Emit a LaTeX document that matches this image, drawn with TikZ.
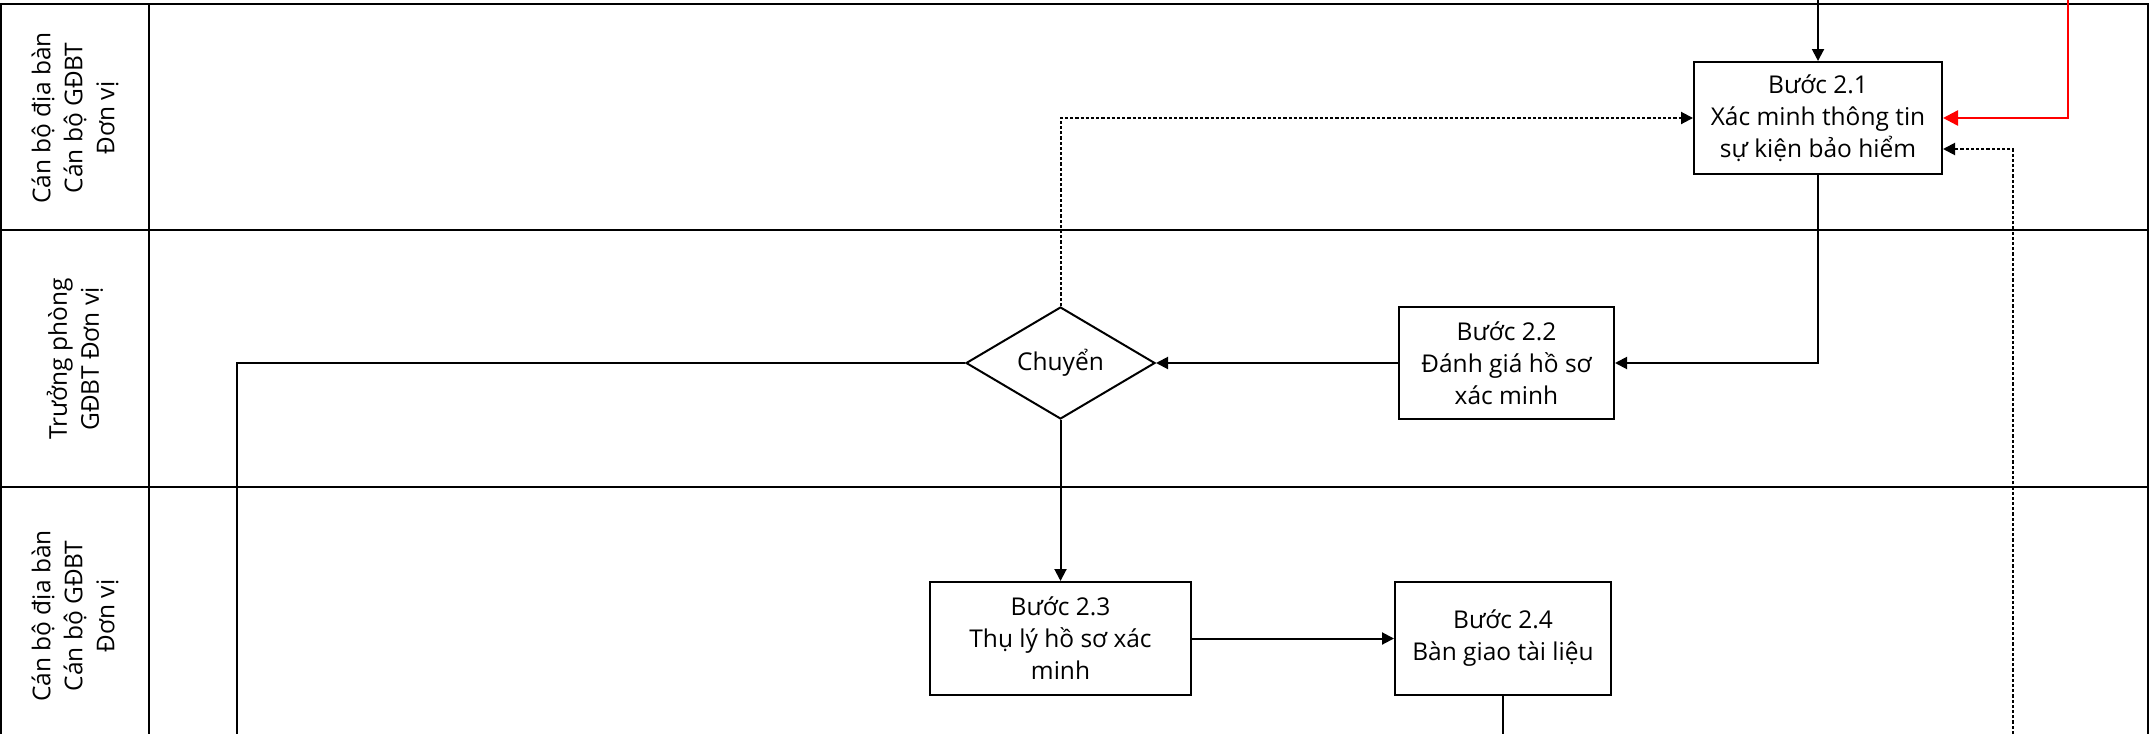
\documentclass[tikz,border=0pt]{standalone}
\usepackage{fontspec}
\setmainfont{Open Sans}
\usetikzlibrary{arrows.meta,shapes.geometric}
\begin{document}
\begin{tikzpicture}[x=1pt,y=-1pt,
  frame/.style={line width=2pt},
  txt/.style={font=\fontsize{24.5}{32}\selectfont},
  box/.style={draw,line width=2pt,rectangle,align=center,inner sep=0pt,txt},
  dec/.style={draw,line width=2pt,diamond,inner sep=0pt,aspect=1.69,txt},
  lanelabel/.style={rotate=90,align=center,txt},
  conn/.style={line width=2pt},
  arr/.style={conn,-{Triangle[length=12pt,width=12pt]}},
  dotarr/.style={arr,dash pattern=on 3.2pt off 2pt},
  redarr/.style={line width=2.6pt,draw=red,-{Triangle[length=15pt,width=15pt]}}
]
\useasboundingbox (0,0) rectangle (2149,734);
% lanes frame
\draw[frame] (0,4) -- (2149,4);
\draw[frame] (0,230) -- (2149,230);
\draw[frame] (0,487) -- (2149,487);
\draw[frame] (1,4) -- (1,734);
\draw[frame] (149,4) -- (149,734);
\draw[frame] (2147.5,4) -- (2147.5,734);
% lane labels
\node[lanelabel] (l1) at (75,118) {Cán bộ địa bàn\\Cán bộ GĐBT\\Đơn vị};
\node[lanelabel] (l2) at (75,359) {Trưởng phòng\\GĐBT Đơn vị};
\node[lanelabel] (l3) at (75,616) {Cán bộ địa bàn\\Cán bộ GĐBT\\Đơn vị};
% nodes
\node[box,minimum width=248pt,minimum height=112pt] (b21) at (1818,118) {Bước 2.1\\Xác minh thông tin\\sự kiện bảo hiểm};
\node[box,minimum width=215pt,minimum height=112pt] (b22) at (1506.5,363) {Bước 2.2\\Đánh giá hồ sơ\\xác minh};
\node[dec,minimum width=189pt,minimum height=112pt] (d) at (1060.5,363) {Chuyển};
\node[box,minimum width=261pt,minimum height=113pt] (b23) at (1060.5,638.5) {Bước 2.3\\Thụ lý hồ sơ xác\\minh};
\node[box,minimum width=216pt,minimum height=113pt] (b24) at (1503,638.5) {Bước 2.4\\Bàn giao tài liệu};
% free ends
\coordinate (topin) at (1818,0);
\coordinate (redin) at (2068,0);
\coordinate (dotin) at (2013,734);
\coordinate (leftout) at (237,734);
\coordinate (b24out) at (1503,734);
% connectors
\draw[arr] (topin) -- (b21.north);
\draw[redarr] (redin) |- (b21.east);
\draw[dotarr] (dotin) |- ([yshift=-31pt]b21.east);
\draw[dotarr] (d.north) |- (b21.west);
\draw[arr] (b21.south) |- (b22.east);
\draw[arr] (b22.west) -- (d.east);
\draw[conn] (d.west) -| (leftout);
\draw[arr] (d.south) -- (b23.north);
\draw[arr] (b23.east) -- (b24.west);
\draw[conn] (b24.south) -- (b24out);
\end{tikzpicture}
\end{document}
